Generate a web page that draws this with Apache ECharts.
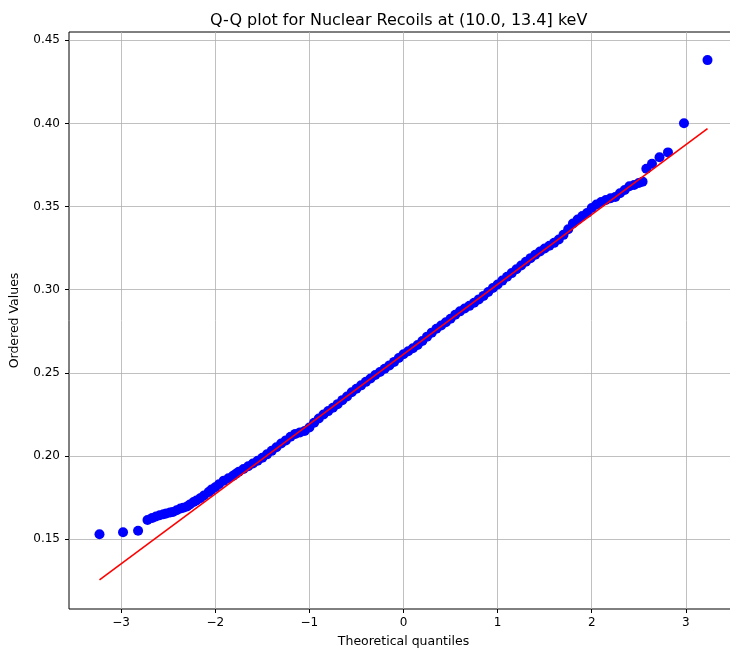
<!DOCTYPE html>
<html>
<head>
<meta charset="utf-8">
<script src="https://cdn.jsdelivr.net/npm/echarts@6/dist/echarts.min.js"></script>
<style>
  html, body { margin: 0; padding: 0; background: #fff; overflow: hidden; }
  /* the axes box runs a few pixels past the right edge of the page */
  #chart { width: 745px; height: 653px; }
</style>
</head>
<body>
<div id="chart"></div>
<script>
// Theoretical normal quantiles (x) and the ordered sample values (y)
const quantiles = [
  -3.23, -2.98, -2.82, -2.72, -2.67, -2.63, -2.59, -2.55, -2.52, -2.48,
  -2.45, -2.41, -2.37, -2.34, -2.30, -2.27, -2.23, -2.20, -2.16, -2.12,
  -2.07, -2.04, -2.00, -1.96, -1.91, -1.86, -1.81, -1.78,
  -1.75, -1.70, -1.65, -1.60, -1.55, -1.50, -1.45, -1.40, -1.35, -1.30,
  -1.25, -1.20, -1.15, -1.10, -1.05, -1.00, -0.95, -0.90, -0.85, -0.80,
  -0.75, -0.70, -0.65, -0.60, -0.55, -0.50, -0.45, -0.40, -0.35, -0.30,
  -0.25, -0.20, -0.15, -0.10, -0.05, 0.00, 0.05, 0.10, 0.15, 0.20,
  0.25, 0.30, 0.35, 0.40, 0.45, 0.50, 0.55, 0.60, 0.65, 0.70,
  0.75, 0.80, 0.85, 0.90, 0.95, 1.00, 1.05, 1.10, 1.15, 1.20,
  1.25, 1.30, 1.35, 1.40, 1.45, 1.50, 1.55, 1.60, 1.65, 1.70,
  1.75, 1.80, 1.85, 1.90, 1.95, 2.00, 2.05, 2.10, 2.15, 2.20,
  2.25, 2.30, 2.35, 2.40, 2.45, 2.50, 2.54,
  2.58, 2.64, 2.72, 2.81, 2.98, 3.23
];
const orderedValues = [
  0.1530, 0.1542, 0.1551, 0.1615, 0.1628, 0.1636, 0.1644, 0.1650, 0.1654, 0.1660,
  0.1664, 0.1674, 0.1684, 0.1689, 0.1696, 0.1708, 0.1723, 0.1733, 0.1746, 0.1763,
  0.1783, 0.1798, 0.1812, 0.1830, 0.1852, 0.1866, 0.1882, 0.1893,
  0.1905, 0.1922, 0.1938, 0.1955, 0.1972, 0.1990, 0.2010, 0.2031, 0.2053, 0.2075,
  0.2094, 0.2116, 0.2133, 0.2142, 0.2150, 0.2172, 0.2200, 0.2226, 0.2250, 0.2270,
  0.2290, 0.2312, 0.2336, 0.2358, 0.2383, 0.2405, 0.2425, 0.2446, 0.2466, 0.2487,
  0.2505, 0.2525, 0.2545, 0.2566, 0.2590, 0.2612, 0.2630, 0.2648, 0.2668, 0.2692,
  0.2718, 0.2742, 0.2765, 0.2785, 0.2805, 0.2826, 0.2850, 0.2870, 0.2887, 0.2903,
  0.2922, 0.2942, 0.2963, 0.2986, 0.3010, 0.3032, 0.3055, 0.3078, 0.3100, 0.3123,
  0.3146, 0.3168, 0.3190, 0.3210, 0.3230, 0.3248, 0.3265, 0.3282, 0.3302, 0.3330,
  0.3364, 0.3398, 0.3422, 0.3443, 0.3462, 0.3492, 0.3513, 0.3528, 0.3540, 0.3550,
  0.3558, 0.3580, 0.3600, 0.3622, 0.3630, 0.3642, 0.3650,
  0.3728, 0.3757, 0.3797, 0.3826, 0.4001, 0.4381
];

// Least-squares fit line end points
const fitQuantiles = [-3.23, 3.23];
const fitValues = [0.1255, 0.3969];

// Tick positions
const xTicks = [-3, -2, -1, 0, 1, 2, 3];
const yTicks = [0.15, 0.20, 0.25, 0.30, 0.35, 0.40, 0.45];

const FONT = 'DejaVu Sans';
const points = quantiles.map((q, i) => [q, orderedValues[i]]);
const fitLine = fitQuantiles.map((q, i) => [q, fitValues[i]]);

const chart = echarts.init(document.getElementById('chart'), null, { renderer: 'canvas' });

const gridLine = { show: true, lineStyle: { color: '#b0b0b0', width: 0.8 } };

chart.setOption({
  animation: false,
  backgroundColor: '#fff',
  title: {
    text: 'Q-Q plot for Nuclear Recoils at (10.0, 13.4] keV',
    left: 205,
    top: 8,
    textStyle: { fontFamily: FONT, fontSize: 16, fontWeight: 'normal', color: '#000' }
  },
  grid: {
    left: 69, top: 32, width: 669, height: 581,
    show: true, borderColor: '#000', borderWidth: 1, backgroundColor: 'transparent'
  },
  xAxis: {
    type: 'value',
    min: -3.554, max: 3.554,
    name: 'Theoretical quantiles',
    nameLocation: 'middle',
    nameGap: 26,
    nameTextStyle: { fontFamily: FONT, fontSize: 12.5, color: '#000' },
    axisLine: { show: false, onZero: false },
    axisTick: { show: true, inside: false, length: 4, customValues: xTicks, lineStyle: { color: '#000', width: 1 } },
    axisLabel: {
      customValues: xTicks,
      margin: 8,
      fontFamily: FONT, fontSize: 12, color: '#000',
      formatter: v => (v < 0 ? '\u2212' + Math.abs(v) : String(v))
    },
    splitLine: gridLine
  },
  yAxis: {
    type: 'value',
    min: 0.108, max: 0.455,
    name: 'Ordered Values',
    nameLocation: 'middle',
    nameGap: 48,
    nameTextStyle: { fontFamily: FONT, fontSize: 12.5, color: '#000' },
    axisLine: { show: false, onZero: false },
    axisTick: { show: true, inside: false, length: 4, customValues: yTicks, lineStyle: { color: '#000', width: 1 } },
    axisLabel: {
      customValues: yTicks,
      margin: 9,
      fontFamily: FONT, fontSize: 12, color: '#000',
      formatter: v => v.toFixed(2)
    },
    splitLine: gridLine
  },
  series: [
    {
      type: 'scatter',
      data: points,
      symbol: 'circle',
      symbolSize: 10,
      itemStyle: { color: '#0000ff', opacity: 1 },
      z: 2
    },
    {
      type: 'line',
      data: fitLine,
      showSymbol: false,
      symbol: 'none',
      lineStyle: { color: '#ff0000', width: 1.6 },
      z: 3
    }
  ]
});
</script>
</body>
</html>
